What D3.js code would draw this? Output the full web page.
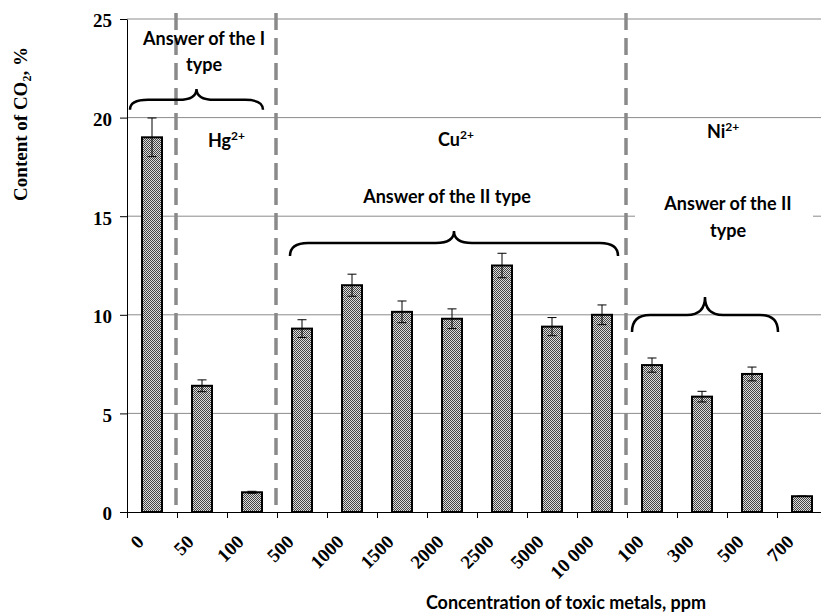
<!DOCTYPE html>
<html>
<head>
<meta charset="utf-8">
<script src="https://cdnjs.cloudflare.com/ajax/libs/d3/7.8.5/d3.min.js"></script>
<style>
  body { margin: 0; background: #fff; }
  svg { display: block; overflow: hidden; }
</style>
</head>
<body>
<script>
// concentrations (ppm) for Hg2+, Cu2+, Ni2+ groups
var categories = ['0', '50', '100', '500', '1000', '1500', '2000', '2500', '5000', '10 000', '100', '300', '500', '700'];
var values = [19.0, 6.4, 1.0, 9.3, 11.5, 10.15, 9.8, 12.5, 9.4, 10.0, 7.45, 5.85, 7.0, 0.8];
var errors = [0.98, 0.3, 0.05, 0.45, 0.56, 0.55, 0.5, 0.62, 0.46, 0.5, 0.36, 0.27, 0.35, 0];
var yTicks = [0, 5, 10, 15, 20, 25];
var groupEnds = [0, 2, 9];   // dashed separators after these categories

var margin = { left: 127, top: 19 };
var width = 700, height = 493;
var sans = 'Lato, "Open Sans", sans-serif';
var serif = '"Liberation Serif", "Times New Roman", serif';

var svg = d3.select('body').append('svg')
    .attr('width', 821)
    .attr('height', 615);

var defs = svg.append('defs');
var pat = defs.append('pattern')
    .attr('id', 'dots')
    .attr('width', 2).attr('height', 2)
    .attr('patternUnits', 'userSpaceOnUse');
pat.append('rect').attr('width', 2).attr('height', 2).attr('fill', '#dcdcdc');
pat.append('rect').attr('width', 1).attr('height', 1).attr('fill', '#444');
pat.append('rect').attr('x', 1).attr('y', 1).attr('width', 1).attr('height', 1).attr('fill', '#444');

var g = svg.append('g').attr('transform', 'translate(' + margin.left + ',' + margin.top + ')');

//scales
var x = d3.scaleBand()
    .domain(d3.range(categories.length))
    .range([0, width])
    .paddingInner(0.6)
    .paddingOuter(0.3);
var xc = d3.scaleLinear().domain([0, categories.length]).range([0, width]);
var y = d3.scaleLinear().domain([0, 25]).range([height, 0]);

//gridlines
g.selectAll('.grid')
    .data(yTicks.filter(function (d) { return d > 0; }))
    .enter().append('line')
    .attr('x1', 0).attr('x2', width)
    .attr('y1', function (d) { return y(d); })
    .attr('y2', function (d) { return y(d); })
    .attr('stroke', '#8c8c8c')
    .attr('stroke-width', 1);

//dashed group separators
g.selectAll('.sep')
    .data(groupEnds)
    .enter().append('line')
    .attr('x1', function (d) { return xc(d + 1) - 1; })
    .attr('x2', function (d) { return xc(d + 1) - 1; })
    .attr('y1', y(25.3))
    .attr('y2', y(0.1))
    .attr('stroke', '#8a8a8a')
    .attr('stroke-width', 3.5)
    .attr('stroke-dasharray', '17,8');

//bars
g.selectAll('.bar')
    .data(values)
    .enter().append('rect')
    .attr('x', function (d, i) { return x(i); })
    .attr('y', function (d) { return y(d); })
    .attr('width', x.bandwidth())
    .attr('height', function (d) { return height - y(d); })
    .attr('fill', 'url(#dots)')
    .attr('stroke', '#000')
    .attr('stroke-width', 2);

//error bars
var eb = g.selectAll('.err')
    .data(values)
    .enter().append('g')
    .attr('transform', function (d, i) { return 'translate(' + (x(i) + x.bandwidth() / 2) + ',0)'; });
eb.append('line')
    .attr('y1', function (d, i) { return y(d - errors[i]); })
    .attr('y2', function (d, i) { return y(d + errors[i]); })
    .attr('stroke', '#000');
eb.append('line')
    .attr('x1', -4.5).attr('x2', 4.5)
    .attr('y1', function (d, i) { return y(d + errors[i]); })
    .attr('y2', function (d, i) { return y(d + errors[i]); })
    .attr('stroke', '#000');
eb.append('line')
    .attr('x1', -4.5).attr('x2', 4.5)
    .attr('y1', function (d, i) { return y(d - errors[i]); })
    .attr('y2', function (d, i) { return y(d - errors[i]); })
    .attr('stroke', '#000');

//axes
var yaxis = d3.axisLeft(y).tickValues(yTicks).tickSize(7).tickSizeOuter(0).tickPadding(8);
var ya = g.append('g').call(yaxis);
ya.selectAll('text')
    .attr('font-family', serif)
    .attr('font-weight', 'bold')
    .attr('font-size', '19px')
    .attr('fill', '#000')
    .attr('dy', '0.42em');
ya.selectAll('line, path').attr('stroke', '#000');

var xaxis = d3.axisBottom(xc).tickValues(d3.range(categories.length + 1)).tickFormat('').tickSize(6).tickSizeOuter(0);
var xa = g.append('g').attr('transform', 'translate(0,' + height + ')').call(xaxis);
xa.selectAll('line, path').attr('stroke', '#000');

g.selectAll('.xlab')
    .data(categories)
    .enter().append('text')
    .attr('transform', function (d, i) {
        return 'translate(' + (x(i) + x.bandwidth() / 2 - 7) + ',' + (height + 31) + ') rotate(-45)';
    })
    .attr('text-anchor', 'end')
    .attr('font-family', serif)
    .attr('font-weight', 'bold')
    .attr('font-size', '19px')
    .text(function (d) { return d; });

//axis titles
var yt = svg.append('text')
    .attr('transform', 'translate(27,124) rotate(-90)')
    .attr('text-anchor', 'middle')
    .attr('font-family', serif)
    .attr('font-weight', 'bold')
    .attr('font-size', '19px');
yt.append('tspan').text('Content of CO');
yt.append('tspan').attr('font-size', '12px').attr('dy', 4).text('2');
yt.append('tspan').attr('dy', -4).text(', %');

svg.append('text')
    .attr('x', 566)
    .attr('y', 609)
    .attr('text-anchor', 'middle')
    .attr('font-family', sans)
    .attr('font-weight', 'bold')
    .attr('font-size', '18px')
    .text('Concentration of toxic metals, ppm');

//braces (positions in category / value units)
var braces = [
    { x1: 0.06, x2: 2.72, mid: 20.9, peak: 21.45, end: 20.4 },
    { x1: 3.26, x2: 9.82, mid: 13.64, peak: 14.25, end: 12.98 },
    { x1: 10.1, x2: 13.02, mid: 9.99, peak: 10.9, end: 9.13 }
];
function bracePath(b) {
    var x1 = xc(b.x1), x2 = xc(b.x2), cx = (x1 + x2) / 2;
    var ym = y(b.mid), yp = y(b.peak), ye = y(b.end);
    var r = 18;
    return 'M' + x1 + ',' + ye +
        'Q' + x1 + ',' + ym + ' ' + (x1 + r) + ',' + ym +
        'L' + (cx - r) + ',' + ym +
        'Q' + cx + ',' + ym + ' ' + cx + ',' + yp +
        'Q' + cx + ',' + ym + ' ' + (cx + r) + ',' + ym +
        'L' + (x2 - r) + ',' + ym +
        'Q' + x2 + ',' + ym + ' ' + x2 + ',' + ye;
}
g.selectAll('.brace')
    .data(braces)
    .enter().append('path')
    .attr('d', bracePath)
    .attr('fill', 'none')
    .attr('stroke', '#000')
    .attr('stroke-width', 2.5);

//white box behind the Ni note
g.append('rect')
    .attr('x', xc(10.16))
    .attr('y', y(16.33))
    .attr('width', xc(13.72) - xc(10.16))
    .attr('height', y(13.54) - y(16.33))
    .attr('fill', '#fff');

//notes
var notes = [
    { t: 'Answer of the I', x: 1.54, v: 23.68 },
    { t: 'type', x: 1.54, v: 22.36 },
    { t: 'Answer of the II type', x: 6.4, v: 15.67 },
    { t: 'Answer of the II', x: 12.02, v: 15.31 },
    { t: 'type', x: 12.02, v: 13.95 }
];
g.selectAll('.note')
    .data(notes)
    .enter().append('text')
    .attr('x', function (d) { return xc(d.x); })
    .attr('y', function (d) { return y(d.v); })
    .attr('text-anchor', 'middle')
    .attr('font-family', sans)
    .attr('font-weight', 'bold')
    .attr('font-size', '18px')
    .text(function (d) { return d.t; });

var ions = [
    { t: 'Hg', x: 1.62, v: 18.51 },
    { t: 'Cu', x: 6.22, v: 18.56 },
    { t: 'Ni', x: 11.6, v: 18.97 }
];
var ion = g.selectAll('.ion')
    .data(ions)
    .enter().append('text')
    .attr('x', function (d) { return xc(d.x); })
    .attr('y', function (d) { return y(d.v); })
    .attr('font-family', sans)
    .attr('font-weight', 'bold')
    .attr('font-size', '18px');
ion.append('tspan').text(function (d) { return d.t; });
ion.append('tspan').attr('font-size', '12px').attr('dy', -7).text('2+');
</script>
</body>
</html>
